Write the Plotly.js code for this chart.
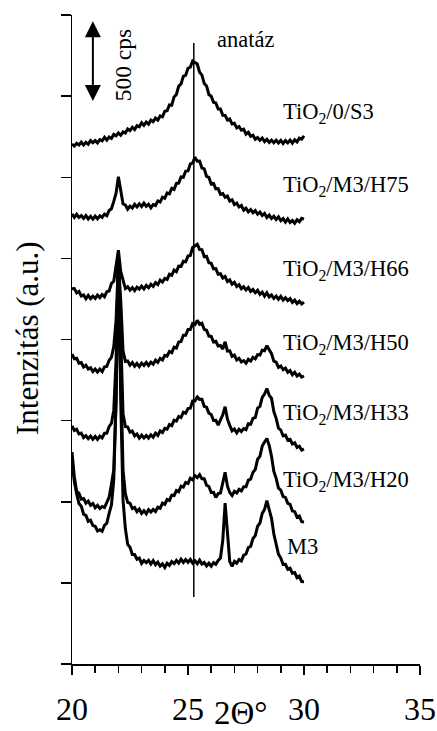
<!DOCTYPE html>
<html>
<head>
<meta charset="utf-8">
<script src="https://cdn.plot.ly/plotly-3.0.1.min.js"></script>
<style>
  html, body { margin: 0; padding: 0; background: #fff; }
  #chart { width: 437px; height: 731px; }
</style>
</head>
<body>
<div id="chart"></div>
<script>
// Step-scan angles, 2θ in degrees
const twoTheta = [
  20.0,20.1,20.2,20.3,20.4,20.5,20.6,20.7,20.8,20.9,
  21.0,21.1,21.2,21.3,21.4,21.5,21.6,21.7,21.8,21.9,
  22.0,22.1,22.2,22.3,22.4,22.5,22.6,22.7,22.8,22.9,
  23.0,23.1,23.2,23.3,23.4,23.5,23.6,23.7,23.8,23.9,
  24.0,24.1,24.2,24.3,24.4,24.5,24.6,24.7,24.8,24.9,
  25.0,25.1,25.2,25.3,25.4,25.5,25.6,25.7,25.8,25.9,
  26.0,26.1,26.2,26.3,26.4,26.5,26.6,26.7,26.8,26.9,
  27.0,27.1,27.2,27.3,27.4,27.5,27.6,27.7,27.8,27.9,
  28.0,28.1,28.2,28.3,28.4,28.5,28.6,28.7,28.8,28.9,
  29.0,29.1,29.2,29.3,29.4,29.5,29.6,29.7,29.8,29.9,
  30.0
];

// Sample names, top to bottom
const sampleNames = [
  'TiO<sub>2</sub>/0/S3',
  'TiO<sub>2</sub>/M3/H75',
  'TiO<sub>2</sub>/M3/H66',
  'TiO<sub>2</sub>/M3/H50',
  'TiO<sub>2</sub>/M3/H33',
  'TiO<sub>2</sub>/M3/H20',
  'M3'
];

// Measured intensities (cps)
const countsS3 = [
  155,142,159,149,166,149,165,153,176,163,
  176,162,182,175,196,179,198,189,214,205,
  223,209,230,223,248,237,258,244,268,261,
  286,270,290,277,302,293,315,302,328,322,
  357,360,396,394,445,460,512,525,572,579,
  622,629,667,656,648,597,579,528,513,460,
  449,412,408,370,370,332,331,303,309,278,
  282,254,263,240,246,216,227,202,209,184,
  195,178,192,170,184,165,179,163,178,161,
  177,158,176,162,179,160,181,168,191,185,
  205
];
const countsH75 = [
  174,153,172,153,164,146,164,143,159,142,
  160,144,163,153,173,163,195,206,251,302,
  403,320,235,229,203,222,210,233,217,236,
  220,241,221,234,212,232,226,254,247,277,
  270,303,298,332,325,362,364,402,400,438,
  439,482,487,524,499,500,457,452,405,399,
  358,361,328,330,295,300,277,284,253,261,
  232,241,217,226,197,209,187,201,181,195,
  172,185,164,177,152,167,146,159,139,156,
  132,145,123,143,121,134,117,138,126,147,
  142
];
const countsH66 = [
  219,221,194,203,175,182,158,179,159,174,
  160,180,165,184,171,201,206,252,266,356,
  458,327,265,221,232,211,227,208,229,218,
  236,218,240,226,247,234,258,245,273,261,
  283,277,309,303,335,325,359,358,389,386,
  421,425,474,483,494,462,461,418,419,380,
  377,342,344,309,312,286,295,264,274,248,
  260,234,245,220,232,212,227,203,215,195,
  210,185,199,174,195,169,181,160,175,155,
  173,150,164,147,159,136,150,128,143,126,
  137
];
const countsH50 = [
  218,189,192,162,166,138,149,126,134,111,
  126,107,126,110,140,142,180,198,264,428,
  785,551,239,173,176,150,166,143,160,141,
  162,148,167,148,168,156,181,167,192,182,
  211,206,234,227,261,255,293,296,334,334,
  369,369,406,400,426,402,408,370,365,329,
  327,293,297,268,271,249,294,236,238,204,
  212,182,192,169,178,162,186,175,198,189,
  215,212,242,239,270,243,221,174,168,136,
  145,122,132,106,117,91,106,83,95,76,
  83
];
const countsH33 = [
  269,240,248,219,224,196,208,190,206,186,
  204,185,205,194,223,223,264,285,364,675,
  1303,859,344,265,262,230,237,207,218,193,
  211,194,210,194,214,199,224,210,238,228,
  254,249,277,270,304,298,327,320,353,346,
  375,378,422,422,447,432,433,388,384,347,
  339,302,303,274,308,337,387,310,272,238,
  249,225,247,234,252,245,282,279,315,320,
  378,389,444,465,499,457,439,357,315,255,
  243,207,212,181,186,157,164,136,143,119,
  125
];
const countsH20 = [
  588,436,345,334,298,302,274,286,260,271,
  245,260,240,253,246,282,310,389,477,909,
  1802,1094,477,332,278,273,240,247,221,237,
  210,227,208,233,219,235,222,248,242,274,
  266,296,290,322,320,351,344,378,372,401,
  394,427,417,443,431,449,424,424,384,376,
  339,340,309,332,336,399,464,378,339,320,
  347,336,358,349,375,375,415,421,463,481,
  544,562,625,650,672,629,562,469,426,366,
  354,314,309,272,266,225,221,187,194,159,
  157
];
const countsM3 = [
  866,745,670,610,594,544,537,500,507,474,
  470,441,449,439,476,489,549,601,755,1248,
  2160,1248,631,456,358,340,296,296,267,274,
  241,259,246,260,237,258,233,249,224,238,
  216,242,229,252,240,259,243,267,247,265,
  248,266,243,257,239,261,237,247,225,242,
  224,246,235,259,274,385,613,416,252,223,
  254,242,265,256,292,299,339,346,394,412,
  470,489,549,574,628,573,519,422,364,297,
  274,234,235,205,211,180,184,153,163,129,
  128
];

// Vertical stacking offsets (cps) for each pattern
const offsets = [3050, 2600, 2093, 1692, 1199, 718, 379];

// Anatase (101) reflection position, 2θ
const anatasePeak = 25.25;
const anatasePeakLabel = 'anatáz';

// Intensity scale bar (cps)
const scaleBarCps = 500;
const scaleBarLabel = '500 cps';

const xTickVals = [20, 25, 30, 35];
const xTickText = ['20', '25', '30', '35'];

const patterns = [countsS3, countsH75, countsH66, countsH50, countsH33, countsH20, countsM3];

const serif = 'Liberation Serif, Times New Roman, serif';

const traces = patterns.map((counts, i) => ({
  type: 'scatter',
  mode: 'lines',
  x: twoTheta,
  y: counts.map(c => c + offsets[i]),
  name: sampleNames[i],
  line: { color: '#000', width: 3 },
  showlegend: false,
  hoverinfo: 'skip'
}));

// Sample labels at the right end of each pattern
const labelX = [29.0, 29.0, 29.0, 29.0, 29.0, 29.0, 29.18];
const labelY = [3396, 2946, 2428, 1972, 1541, 1128, 727];
const sampleLabels = sampleNames.map((t, i) => ({
  text: t, x: labelX[i], y: labelY[i], xref: 'x', yref: 'y',
  xanchor: 'left', yanchor: 'middle', showarrow: false,
  font: { family: serif, size: 22.5, color: '#000' }
}));

const scaleTop = 3970;
const annotations = sampleLabels.concat([
  { // double-headed intensity scale arrow
    x: 20.9, y: scaleTop - scaleBarCps, ax: 20.9, ay: scaleTop,
    xref: 'x', yref: 'y', axref: 'x', ayref: 'y',
    text: '', showarrow: true, arrowside: 'end+start',
    arrowhead: 2, startarrowhead: 2, arrowsize: 1.6, startarrowsize: 1.6,
    arrowwidth: 2, arrowcolor: '#000', standoff: 0, startstandoff: 0
  },
  {
    text: scaleBarLabel, x: 22.2, y: scaleTop - scaleBarCps / 2 - 30, xref: 'x', yref: 'y',
    textangle: -90, showarrow: false, xanchor: 'center', yanchor: 'middle',
    font: { family: serif, size: 23.5, color: '#000' }
  },
  {
    text: anatasePeakLabel, x: 26.15, y: 3846, xref: 'x', yref: 'y',
    xanchor: 'left', yanchor: 'middle', showarrow: false,
    font: { family: serif, size: 22.5, color: '#000' }
  },
  { // y axis title
    text: 'Intenzitás (a.u.)', x: -0.13, y: 0.502, xref: 'paper', yref: 'paper',
    textangle: -90, showarrow: false, xanchor: 'center', yanchor: 'middle',
    font: { family: serif, size: 31, color: '#000' }
  },
  { // x axis title
    text: '2Θ°', x: 27.3, y: -0.075, xref: 'x', yref: 'paper',
    showarrow: false, xanchor: 'center', yanchor: 'middle', borderpad: 0,
    font: { family: serif, size: 33, color: '#000' }
  }
]);

const layout = {
  width: 437,
  height: 731,
  margin: { l: 72, r: 17, t: 15, b: 67, pad: 0 },
  paper_bgcolor: '#fff',
  plot_bgcolor: '#fff',
  showlegend: false,
  font: { family: serif, color: '#000' },
  xaxis: {
    range: [20, 35],
    tickmode: 'array',
    tickvals: xTickVals,
    ticktext: xTickText,
    ticks: 'outside', ticklen: 9, tickwidth: 1.5, tickcolor: '#000',
    minor: { dtick: 1, ticks: 'outside', ticklen: 7, tickwidth: 1.5, tickcolor: '#000', showgrid: false },
    showline: true, linecolor: '#000', linewidth: 1.5,
    showgrid: false, zeroline: false,
    tickfont: { family: serif, size: 32, color: '#000' },
    ticklabelstandoff: 7,
    fixedrange: true
  },
  yaxis: {
    range: [0, 4000],
    dtick: scaleBarCps, tick0: 0,
    ticks: 'outside', ticklen: 10, tickwidth: 1.5, tickcolor: '#000',
    showticklabels: false,
    showline: true, linecolor: '#000', linewidth: 1.5,
    showgrid: false, zeroline: false,
    fixedrange: true
  },
  shapes: [{
    type: 'line', xref: 'x', yref: 'y',
    x0: anatasePeak, x1: anatasePeak, y0: 413, y1: 3827,
    line: { color: '#000', width: 1.5 }
  }],
  annotations: annotations
};

Plotly.newPlot('chart', traces, layout, { displayModeBar: false, staticPlot: true });
</script>
</body>
</html>
